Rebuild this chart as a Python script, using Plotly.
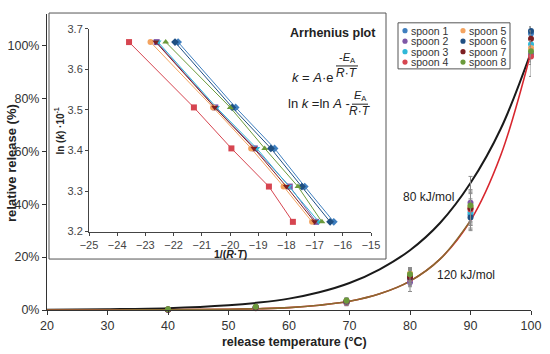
import plotly.graph_objects as go

# ---------------- data ----------------
spoons = ["spoon 1", "spoon 2", "spoon 3", "spoon 4", "spoon 5", "spoon 6", "spoon 7", "spoon 8"]
colors = ["#3f7fbf", "#7e57a6", "#2fb8d8", "#d64550", "#f4a460", "#1f4f82", "#7d1f22", "#6b9a3b"]
inset_symbols = ["diamond", "square", "triangle-down", "square", "circle", "diamond", "triangle-down", "triangle-up"]

temps = [40, 54.5, 69.5, 80, 90, 100]
release = [
    [0.2, 0.8, 3.0, 12.8, 36.0, 104.5],
    [0.1, 1.0, 2.6, 10.5, 40.5, 96.8],
    [0.2, 0.9, 3.2, 13.2, 37.0, 100.5],
    [0.1, 0.7, 2.8, 11.8, 38.0, 95.8],
    [0.3, 1.1, 3.5, 13.8, 39.0, 99.0],
    [0.2, 0.9, 3.1, 12.2, 35.0, 105.5],
    [0.2, 1.0, 3.3, 12.5, 38.5, 102.5],
    [0.3, 1.2, 3.6, 13.5, 39.5, 97.8],
]
release_err = [
    [0.1, 0.3, 1.0, 2.5, 5, 2.5],
    [0.1, 0.3, 1.0, 3.5, 10, 4],
    [0.1, 0.3, 1.0, 2.5, 5, 3],
    [0.1, 0.3, 1.0, 3.0, 6, 7.5],
    [0.1, 0.3, 1.0, 2.2, 6, 3],
    [0.1, 0.3, 1.0, 3.0, 5, 1.5],
    [0.1, 0.3, 1.0, 2.5, 6, 3],
    [0.1, 0.3, 1.0, 2.5, 6, 4],
]

curve_T = [20, 30, 40, 50, 55, 60, 65, 70, 75, 80, 85, 90, 95, 100]
curve_80 = [0.1, 0.3, 0.7, 1.8, 2.8, 4.3, 6.7, 10.2, 15.4, 22.6, 33.0, 48.0, 68.5, 97.5]
curve_120 = [0.0, 0.0, 0.1, 0.3, 0.5, 0.9, 1.8, 3.3, 6.1, 10.9, 19.3, 33.8, 58.5, 97.5]
curve_120_lowT = [20, 30, 40, 50, 55, 60, 65, 70, 75, 80, 85, 90]
curve_120_low = [0.0, 0.0, 0.1, 0.3, 0.5, 0.9, 1.8, 3.3, 6.1, 10.9, 19.3, 33.8]

lnk_levels = [3.667, 3.506, 3.405, 3.311, 3.224]
inv_RT = [
    [-21.84, -19.80, -18.42, -17.35, -16.32],
    [-22.60, -20.52, -19.12, -17.88, -16.95],
    [-22.55, -20.48, -19.05, -17.92, -16.85],
    [-23.58, -21.28, -19.95, -18.62, -17.77],
    [-22.82, -20.60, -19.25, -18.10, -17.09],
    [-21.95, -19.92, -18.55, -17.45, -16.45],
    [-22.63, -20.54, -19.15, -18.00, -17.00],
    [-22.28, -19.99, -18.77, -17.59, -16.74],
]

x_ticks = [20, 30, 40, 50, 60, 70, 80, 90, 100]
y_ticks = [0, 20, 40, 60, 80, 100]
y_tick_labels = ["0%", "20%", "40%", "60%", "80%", "100%"]
inset_x_ticks = [-25, -24, -23, -22, -21, -20, -19, -18, -17, -16, -15]
inset_y_ticks = [3.2, 3.3, 3.4, 3.5, 3.6, 3.7]

# ---------------- layout geometry (pixels) ----------------
W, H = 550, 354
PL, PR, PT, PB = 47, 531, 8, 310

def fx(px):
    return (px - PL) / (PR - PL)

def fy(py):
    return (PB - py) / (PB - PT)

FONT = "Liberation Sans, Arial, Helvetica, sans-serif"

fig = go.Figure()

# model curves
fig.add_trace(go.Scatter(x=curve_T, y=curve_80, mode="lines", line=dict(color="#1a1a1a", width=2, shape="spline"),
                         showlegend=False, hoverinfo="skip"))
fig.add_trace(go.Scatter(x=curve_T, y=curve_120, mode="lines", line=dict(color="#d8262e", width=1.6, shape="spline"),
                         showlegend=False, hoverinfo="skip"))
fig.add_trace(go.Scatter(x=curve_120_lowT, y=curve_120_low, mode="lines", line=dict(color="#8a6a30", width=1.6, shape="spline"),
                         showlegend=False, hoverinfo="skip"))

# measured points
for name, col, vals, errs in zip(spoons, colors, release, release_err):
    fig.add_trace(go.Scatter(
        x=temps, y=vals, mode="markers", name=name,
        marker=dict(color=col, size=6),
        error_y=dict(type="data", array=errs, visible=True, color="#8a8a8a", thickness=1, width=2),
        cliponaxis=False, showlegend=False))

# inset traces
for name, col, sym, xs in zip(spoons, colors, inset_symbols, inv_RT):
    fig.add_trace(go.Scatter(
        x=xs, y=lnk_levels, mode="lines+markers", xaxis="x2", yaxis="y2",
        line=dict(color=col, width=1),
        marker=dict(color=col, size=6, symbol=sym),
        showlegend=False, cliponaxis=False))

shapes = []
annotations = []

# inset frame
shapes.append(dict(type="rect", xref="paper", yref="paper", x0=fx(49), x1=fx(386), y0=fy(258), y1=fy(7),
                   line=dict(color="#555555", width=1), fillcolor="white", layer="below"))

# legend box + entries
shapes.append(dict(type="rect", xref="paper", yref="paper", x0=fx(398), x1=fx(510), y0=fy(64), y1=fy(17),
                   line=dict(color="#555555", width=1), fillcolor="white", layer="below"))
row_y = [25, 35.7, 46.4, 57.1]
for i, (name, col) in enumerate(zip(spoons, colors)):
    colx = 405 if i < 4 else 463
    ry = row_y[i % 4]
    r = 2.6
    shapes.append(dict(type="circle", xref="paper", yref="paper",
                       x0=fx(colx - r), x1=fx(colx + r), y0=fy(ry + r), y1=fy(ry - r),
                       fillcolor=col, line=dict(color=col, width=0)))
    annotations.append(dict(text=name, xref="paper", yref="paper", x=fx(colx + 4), y=fy(ry),
                            xanchor="left", yanchor="middle", showarrow=False,
                            font=dict(size=10.5, color="#333333", family=FONT)))

# inset texts
annotations.append(dict(text="<b>Arrhenius plot</b>", xref="paper", yref="paper", x=fx(333), y=fy(27),
                        xanchor="center", yanchor="middle", showarrow=False,
                        font=dict(size=12.5, color="#222222", family=FONT)))
annotations.append(dict(text="<i>k</i> = <i>A</i>·e", xref="paper", yref="paper", x=fx(336), y=fy(73),
                        xanchor="right", yanchor="middle", showarrow=False,
                        font=dict(size=13, color="#222222", family=FONT)))
annotations.append(dict(text="-<i>E</i><sub>A</sub>", xref="paper", yref="paper", x=fx(347), y=fy(53),
                        xanchor="center", yanchor="middle", showarrow=False,
                        font=dict(size=11, color="#222222", family=FONT)))
shapes.append(dict(type="line", xref="paper", yref="paper", x0=fx(336), x1=fx(358), y0=fy(61), y1=fy(61),
                   line=dict(color="#222222", width=1)))
annotations.append(dict(text="<i>R</i>·<i>T</i>", xref="paper", yref="paper", x=fx(347), y=fy(68),
                        xanchor="center", yanchor="middle", showarrow=False,
                        font=dict(size=12, color="#222222", family=FONT)))
annotations.append(dict(text="ln <i>k</i> =ln <i>A</i> -", xref="paper", yref="paper", x=fx(352), y=fy(99),
                        xanchor="right", yanchor="middle", showarrow=False,
                        font=dict(size=13, color="#222222", family=FONT)))
annotations.append(dict(text="<i>E</i><sub>A</sub>", xref="paper", yref="paper", x=fx(360), y=fy(92),
                        xanchor="center", yanchor="middle", showarrow=False,
                        font=dict(size=11, color="#222222", family=FONT)))
shapes.append(dict(type="line", xref="paper", yref="paper", x0=fx(352), x1=fx(368), y0=fy(100), y1=fy(100),
                   line=dict(color="#222222", width=1)))
annotations.append(dict(text="<i>R</i>·<i>T</i>", xref="paper", yref="paper", x=fx(360), y=fy(107),
                        xanchor="center", yanchor="middle", showarrow=False,
                        font=dict(size=12, color="#222222", family=FONT)))

# inset axis titles
annotations.append(dict(text="<b>1/(<i>R</i>·<i>T</i>)</b>", xref="paper", yref="paper", x=fx(230), y=fy(253),
                        xanchor="center", yanchor="middle", showarrow=False,
                        font=dict(size=10.5, color="#222222", family=FONT)))
annotations.append(dict(text="<b>ln (<i>k</i>) ·10<sup>-1</sup></b>", xref="paper", yref="paper", x=fx(59), y=fy(128),
                        xanchor="center", yanchor="middle", showarrow=False, textangle=-90,
                        font=dict(size=10, color="#222222", family=FONT)))

# main axis titles
annotations.append(dict(text="<b>release temperature (°C)</b>", xref="paper", yref="paper", x=fx(294), y=fy(343),
                        xanchor="center", yanchor="middle", showarrow=False,
                        font=dict(size=12.5, color="#222222", family=FONT)))
annotations.append(dict(text="<b>relative release (%)</b>", xref="paper", yref="paper", x=fx(12), y=fy(160),
                        xanchor="center", yanchor="middle", showarrow=False, textangle=-90,
                        font=dict(size=13, color="#222222", family=FONT)))

# curve labels
annotations.append(dict(text="80 kJ/mol", x=83.0, y=42.6, xref="x", yref="y", showarrow=False,
                        font=dict(size=12, color="#222222", family=FONT)))
annotations.append(dict(text="120 kJ/mol", x=89.3, y=13.3, xref="x", yref="y", showarrow=False,
                        font=dict(size=12, color="#222222", family=FONT)))

fig.update_layout(
    width=W, height=H,
    margin=dict(l=PL, r=W - PR, t=PT, b=H - PB),
    paper_bgcolor="white", plot_bgcolor="white",
    font=dict(family=FONT, size=12, color="#333333"),
    showlegend=False,
    xaxis=dict(range=[20, 100], tickvals=x_ticks, showline=True, linecolor="#333333", linewidth=1,
               ticks="outside", ticklen=4, tickcolor="#333333", showgrid=False, zeroline=False,
               tickfont=dict(size=12.5, color="#333333")),
    yaxis=dict(range=[0, 111.9], tickvals=y_ticks, ticktext=y_tick_labels, showline=True, linecolor="#333333",
               linewidth=1, ticks="outside", ticklen=4, tickcolor="#333333", showgrid=False, zeroline=False,
               tickfont=dict(size=12.5, color="#333333")),
    xaxis2=dict(domain=[fx(89), fx(371)], anchor="y2", range=[-25, -15], tickvals=inset_x_ticks,
                showline=True, linecolor="#444444", linewidth=1, ticks="outside", ticklen=3,
                tickcolor="#444444", showgrid=False, zeroline=False, tickfont=dict(size=11, color="#444444")),
    yaxis2=dict(domain=[fy(230), fy(23)], anchor="x2", range=[3.2, 3.7], tickvals=inset_y_ticks,
                tickformat=".1f", showline=True, linecolor="#444444", linewidth=1, ticks="outside", ticklen=3,
                tickcolor="#444444", showgrid=False, zeroline=False, tickfont=dict(size=11, color="#444444")),
    shapes=shapes,
    annotations=annotations,
)

fig.write_html("out.html", config={"displayModeBar": False},
               post_script="document.body.style.margin='0px';")
